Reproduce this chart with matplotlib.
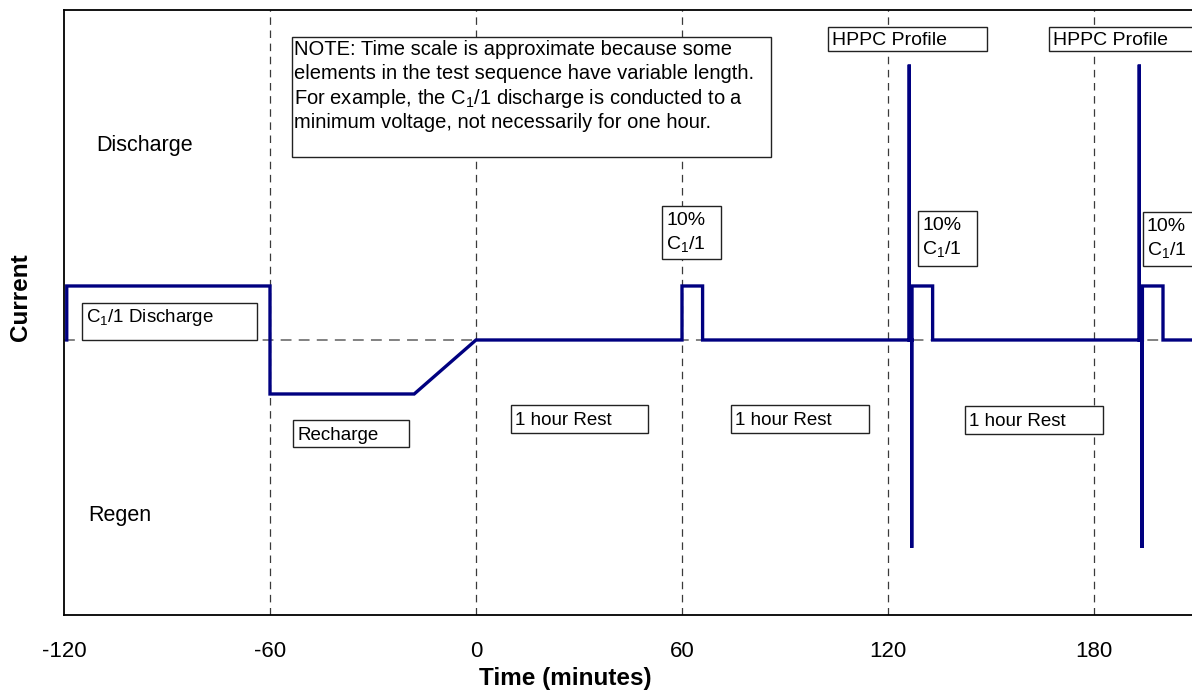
import matplotlib
matplotlib.use("Agg")
import matplotlib.pyplot as plt
from matplotlib.patches import Rectangle

plt.rcParams['font.family'] = ['Liberation Sans', 'DejaVu Sans']
plt.rcParams['mathtext.fontset'] = 'custom'
plt.rcParams['mathtext.rm'] = 'Liberation Sans'
plt.rcParams['mathtext.it'] = 'Liberation Sans:italic'
plt.rcParams['mathtext.bf'] = 'Liberation Sans:bold'

# ---- data ----
time_min = [-119.2, -119.2, -60, -60, -18, 0, 60, 60, 66, 66,
            126.2, 126.2, 126.2, 126.9, 126.9, 126.9, 127.0, 127.0, 133.0, 133.0,
            193.2, 193.2, 193.2, 194.0, 194.0, 194.0, 194.1, 194.1, 200.1, 200.1, 215]
current = [0, 1, 1, -1, -1, 0, 0, 1, 1, 0,
           0, 5.1, 0, 0, -3.85, 0, 0, 1, 1, 0,
           0, 5.1, 0, 0, -3.85, 0, 0, 1, 1, 0, 0]
phase_lines = [-60, 0, 60, 120, 180]
tick_values = [-120, -60, 0, 60, 120, 180]
tick_labels = ['-120', '-60', '0', '60', '120', '180']

W, H = 1192, 696
fig = plt.figure(figsize=(W / 100, H / 100), dpi=100)
fig.patch.set_facecolor('white')
ax = fig.add_axes([64 / W, 81 / H, 1150 / W, 605 / H])
ax.set_xlim(-120, -120 + 1150 / 3.4333)
ax.set_ylim(-5.093, 6.111)

for x in phase_lines:
    ax.axvline(x, color='#3a3a3a', lw=0.9, ls=(0, (6, 4.5)), zorder=1)
ax.axhline(0, color='#777777', lw=1.3, ls=(0, (6, 4)), zorder=1)

ax.plot(time_min, current, color='#000080', lw=2.4, solid_joinstyle='miter', zorder=3)

ax.set_xticks(tick_values)
ax.set_xticklabels(tick_labels, fontsize=16)
ax.tick_params(axis='x', length=0, pad=19)
ax.set_yticks([])
for s in ['left', 'top', 'bottom']:
    ax.spines[s].set_linewidth(1.3)
ax.spines['right'].set_visible(False)

def px2d(px, py):
    return (-120 + (px - 64) / 3.4333, (340 - py) / 54.0)

def box(x0, y0, x1, y1, lines, pad=4, fs=13.5, first_base=None, step=None):
    a = px2d(x0, y1)
    b = px2d(x1, y0)
    ax.add_patch(Rectangle(a, b[0] - a[0], b[1] - a[1], fill=True, facecolor='white',
                           edgecolor='#222222', lw=1.0, zorder=4, clip_on=False))
    for k, ln in enumerate(lines):
        tx, ty = px2d(x0 + pad, first_base + k * step)
        ax.text(tx, ty, ln, fontsize=fs, va='baseline', ha='left', zorder=5, clip_on=False)

box(82, 303, 257, 340, ['C$_1$/1 Discharge'], first_base=322, step=0)
box(293, 420, 409, 447, ['Recharge'], first_base=440, step=0)
box(511, 405, 648, 433, ['1 hour Rest'], first_base=425, step=0)
box(731, 405, 869, 433, ['1 hour Rest'], first_base=425, step=0)
box(965, 406, 1103, 434, ['1 hour Rest'], first_base=426, step=0)
box(828, 27, 987, 51, ['HPPC Profile'], first_base=45, step=0, fs=14)
box(1049, 27, 1240, 51, ['HPPC Profile'], first_base=45, step=0, fs=14)
box(662, 206, 721, 259, ['10%', 'C$_1$/1'], first_base=225, step=24, fs=14)
box(918, 211, 977, 266, ['10%', 'C$_1$/1'], first_base=230, step=24, fs=14)
box(1143, 212, 1202, 266, ['10%', 'C$_1$/1'], first_base=231, step=24, fs=14)
box(292, 37, 771, 157,
    ['NOTE: Time scale is approximate because some',
     'elements in the test sequence have variable length.',
     'For example, the C$_1$/1 discharge is conducted to a',
     'minimum voltage, not necessarily for one hour.'],
    pad=2, fs=14.5, first_base=55, step=24.5)

fig.text(96 / W, 1 - 145 / H, 'Discharge', fontsize=15.5, ha='left', va='center')
fig.text(88 / W, 1 - 515 / H, 'Regen', fontsize=15.5, ha='left', va='center')
fig.text(21 / W, 1 - 297 / H, 'Current', fontsize=17.5, fontweight='bold',
         rotation=90, ha='center', va='center')
fig.text(565 / W, 1 - 678 / H, 'Time (minutes)', fontsize=17.5, fontweight='bold',
         ha='center', va='center')

fig.savefig('out.png', dpi=100, facecolor='white')
